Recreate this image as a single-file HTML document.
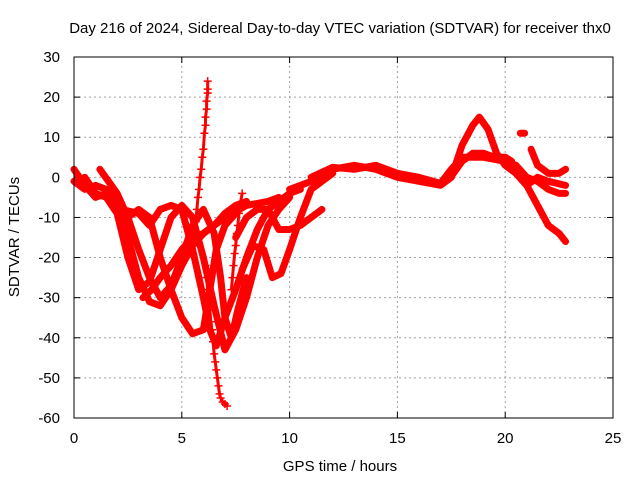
<!DOCTYPE html>
<html><head><meta charset="utf-8"><style>
body{margin:0;background:#fff}
svg text{font-family:"Liberation Sans",sans-serif;font-size:15px;fill:#000}
</style></head><body>
<svg id="c" width="640" height="480">
<text x="340" y="33" text-anchor="middle">Day 216 of 2024, Sidereal Day-to-day VTEC variation (SDTVAR) for receiver thx0</text>
<text x="340" y="471" text-anchor="middle">GPS time / hours</text>
<text transform="translate(19,237) rotate(-90)" text-anchor="middle">SDTVAR / TECUs</text>
<g id="grid"></g><g id="ticks"></g><g id="marks"></g>
<rect x="74" y="57" width="539" height="361" fill="none" stroke="#000" stroke-width="1"/>
</svg>
<script>
const xTicks=[0,5,10,15,20,25];
const yTicks=[-60,-50,-40,-30,-20,-10,0,10,20,30];
const traceA=[[0,2],[0.5,-2],[1,-5],[1.5,-4],[2,-7],[2.5,-15],[3,-25],[3.5,-31],[4,-32],[4.5,-28],[5,-22],[5.5,-17],[6,-14],[6.5,-12],[7,-9],[7.5,-7],[8,-6]];
const traceB=[[0.5,0],[1,-4],[1.5,-5],[2,-9],[2.5,-20],[3,-28],[3.5,-26],[4,-18],[4.5,-10],[5,-7],[5.5,-10],[6,-20],[6.5,-32],[7,-43],[7.5,-38],[8,-30],[8.5,-20],[9,-12],[9.5,-8],[10,-5]];
const traceC=[[1.2,2],[2,-4],[2.5,-10],[3,-18],[3.5,-25],[4,-30],[4.5,-27],[5,-20],[5.5,-12],[6,-8],[6.5,-14],[6.8,-25],[7,-35],[7.3,-40],[7.6,-33],[8,-25]];
const traceK=[[0,-1],[0.5,-3],[1,-2],[1.5,-3],[2,-7],[2.5,-10],[3,-8],[3.5,-10],[4,-20],[4.5,-28],[5,-35],[5.5,-39],[6,-38],[6.3,-28],[6.6,-18],[7,-12],[7.5,-9]];
const traceL=[[2.2,-8],[3,-9],[3.5,-12],[4,-8],[4.5,-7],[5,-8],[5.5,-18],[6,-30],[6.3,-38],[6.6,-42],[7,-35],[7.5,-28],[8,-20],[8.5,-13],[9,-8],[9.5,-6],[10,-4],[10.5,-3]];
const traceM=[[3.2,-30],[3.6,-28],[4,-25],[4.5,-22],[5,-18],[5.5,-15],[6,-14],[7,-10],[8,-7],[9,-6],[9.5,-5]];
const traceH=[[7.5,-15],[8,-10],[8.5,-8],[9,-8],[9.5,-13],[10,-13],[10.5,-12],[11,-10],[11.5,-8]];
const traceI=[[7.8,-23],[8.3,-17],[8.8,-18],[9.2,-25],[9.6,-24],[10,-18],[10.5,-10],[11,-3],[11.5,-1],[12,1]];
const traceD=[[10,-3],[11,-1],[12,2],[13,3],[14,2],[15,0],[16,-1],[17,-2],[17.5,0],[18,8],[18.5,13],[18.8,15],[19.2,12],[19.6,6],[20,3],[20.5,1],[21,-2],[21.5,-7],[22,-12],[22.5,-14],[22.8,-16]];
const traceE=[[11,0],[12,2.5],[13,2],[14,3],[15,1],[16,0],[17,-1.5],[17.5,2],[18,5],[19,5],[20,4],[20.5,3],[21,0],[21.5,-1],[22,-3],[22.5,-4],[22.8,-4]];
const traceO=[[17.6,1],[18,4],[18.5,6],[19,6],[19.5,5],[20,5],[20.3,4]];
const traceF=[[21.2,7],[21.5,3],[22,1],[22.5,1],[22.8,2]];
const traceG=[[20.5,1],[21,-2],[21.5,0],[22,-1],[22.8,-2]];
const traceN=[[20.7,11],[20.9,11]];
const spikeUp=[[5.6,-14],[5.65,-11],[5.7,-8],[5.75,-5],[5.8,-3],[5.85,0],[5.9,2],[5.95,5],[6.0,7],[6.05,11],[6.1,13],[6.1,15],[6.15,17],[6.15,19],[6.2,21],[6.2,22],[6.2,24]];
const spikeDown=[[6.1,-22],[6.15,-25],[6.2,-28],[6.25,-31],[6.3,-33],[6.35,-36],[6.4,-38],[6.45,-41],[6.5,-44],[6.55,-46],[6.6,-48],[6.65,-50],[6.7,-52],[6.75,-54],[6.8,-55],[6.9,-56],[7.0,-56.5],[7.1,-57]];
const spikeMid=[[7.3,-28],[7.35,-25],[7.4,-22],[7.45,-19],[7.5,-17],[7.55,-14],[7.6,-12],[7.65,-9],[7.7,-7],[7.8,-4]];
const lineTraces=[traceA,traceB,traceC,traceK,traceL,traceM,traceH,traceI,traceD,traceE,traceO,traceF,traceG,traceN];
const plusTraces=[spikeUp,spikeDown,spikeMid];
const NS='http://www.w3.org/2000/svg';
const X0=74,X1=613,Y0=418,Y1=57;
function sx(v){return X0+(v-0)/25*(X1-X0);}
function sy(v){return Y0-(v+60)/90*(Y0-Y1);}
const grid=document.getElementById('grid'),ticks=document.getElementById('ticks'),marks=document.getElementById('marks');
function mk(t,a,p){const e=document.createElementNS(NS,t);for(const k in a)e.setAttribute(k,a[k]);p.appendChild(e);return e;}
xTicks.forEach(v=>{const x=sx(v);
 if(v>0&&v<25){const g=mk('line',{x1:x,x2:x,y1:Y0,y2:Y1,stroke:'#a0a0a0','stroke-dasharray':'2,3'},grid);
 
 }
 mk('line',{x1:x,x2:x,y1:Y0,y2:Y0-6,stroke:'#000'},ticks);mk('line',{x1:x,x2:x,y1:Y1,y2:Y1+6,stroke:'#000'},ticks);
 const t=mk('text',{x:x,y:443,'text-anchor':'middle'},ticks);t.textContent=v;
 
 });
yTicks.forEach(v=>{const y=sy(v);
 if(v>-60&&v<30){const g=mk('line',{x1:X0,x2:X1,y1:y,y2:y,stroke:'#a0a0a0','stroke-dasharray':'2,3'},grid);
 
 }
 mk('line',{x1:X0,x2:X0+6,y1:y,y2:y,stroke:'#000'},ticks);mk('line',{x1:X1,x2:X1-6,y1:y,y2:y,stroke:'#000'},ticks);
 const t=mk('text',{x:X0-14,y:y+5,'text-anchor':'end'},ticks);t.textContent=v;
 
 });
lineTraces.forEach((tr,i)=>{
 const p=mk('polyline',{points:tr.map(d=>sx(d[0])+','+sy(d[1])).join(' '),fill:'none',stroke:'#ff0000','stroke-width':7,'stroke-linejoin':'round','stroke-linecap':'round'},marks);
 
 });
plusTraces.forEach((tr,i)=>{tr.forEach(d=>{const x=sx(d[0]),y=sy(d[1]);
 const p=mk('path',{d:`M${x-4},${y}H${x+4}M${x},${y-4}V${y+4}`,stroke:'#ff0000','stroke-width':1.5},marks);
 
 });
 const l=mk('polyline',{points:tr.map(d=>sx(d[0])+','+sy(d[1])).join(' '),fill:'none',stroke:'#ff0000','stroke-width':3},marks);
 
 });
</script>
</body></html>
